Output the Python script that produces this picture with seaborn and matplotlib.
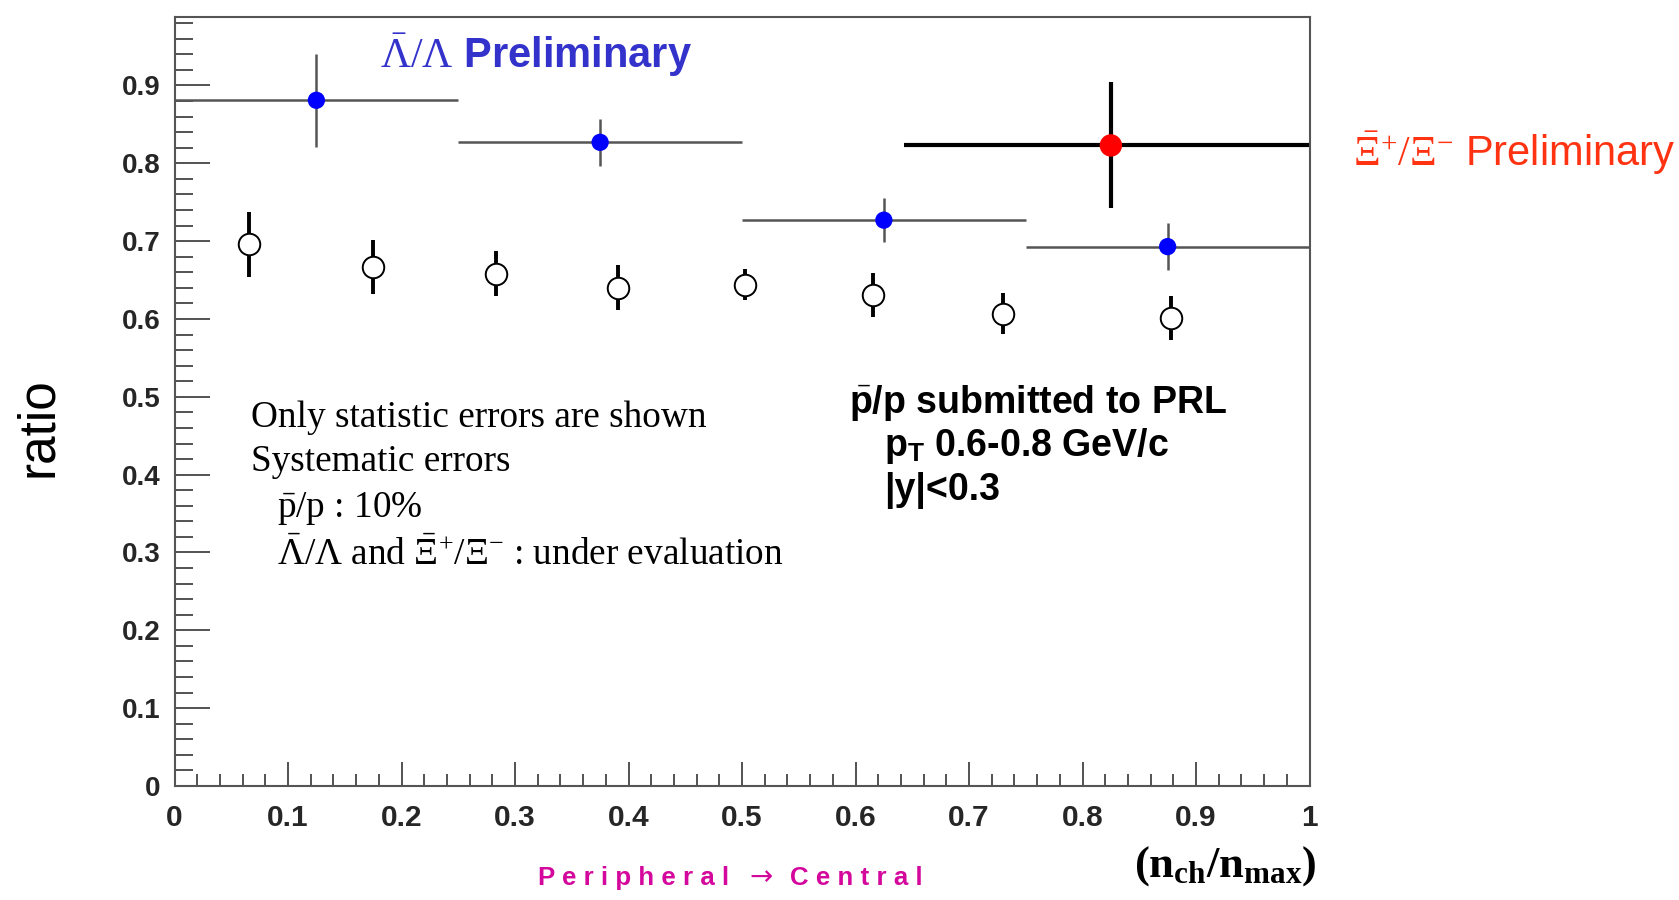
import numpy as np
import matplotlib
matplotlib.use("Agg")
import matplotlib.pyplot as plt
import seaborn as sns

# ---- data -------------------------------------------------------------
# p-bar/p ratio vs. centrality (statistical errors only)
pbar_x = [0.066, 0.175, 0.283, 0.391, 0.503, 0.615, 0.730, 0.878]
pbar_y = [0.696, 0.667, 0.658, 0.640, 0.644, 0.631, 0.607, 0.601]
pbar_err = [0.042, 0.035, 0.029, 0.029, 0.020, 0.028, 0.026, 0.028]

# Lambda-bar/Lambda ratio in four centrality bins
lam_x = [0.125, 0.375, 0.625, 0.875]
lam_xerr = [0.125, 0.125, 0.125, 0.125]
lam_y = [0.881, 0.827, 0.727, 0.693]
lam_yerr = [0.060, 0.030, 0.028, 0.030]

# Xi-bar+/Xi- ratio, one wide bin
xi_x = [0.825]
xi_xerr = [0.182]
xi_y = [0.823]
xi_yerr = [0.081]

x_ticks = [0.0, 0.1, 0.2, 0.3, 0.4, 0.5, 0.6, 0.7, 0.8, 0.9, 1.0]
x_ticklabels = ["0", "0.1", "0.2", "0.3", "0.4", "0.5", "0.6", "0.7", "0.8", "0.9", "1"]
y_ticks = [0.0, 0.1, 0.2, 0.3, 0.4, 0.5, 0.6, 0.7, 0.8, 0.9]
y_ticklabels = ["0", "0.1", "0.2", "0.3", "0.4", "0.5", "0.6", "0.7", "0.8", "0.9"]

# ---- style ------------------------------------------------------------
sns.set_theme(style="ticks")
plt.rcParams["font.family"] = ["Liberation Sans", "DejaVu Sans"]
plt.rcParams["mathtext.fontset"] = "custom"
plt.rcParams["mathtext.rm"] = "Liberation Serif"
plt.rcParams["mathtext.bf"] = "Liberation Serif:bold"
plt.rcParams["mathtext.sf"] = "Liberation Sans:bold"
plt.rcParams["mathtext.default"] = "rm"

W, H = 1679, 900
fig = plt.figure(figsize=(W / 100, H / 100), dpi=100)
fig.patch.set_facecolor("white")

x0, x1 = 174.5, 1309.5
y0, y1 = 786.0, 17.0
ax = fig.add_axes([x0 / W, 1 - y0 / H, (x1 - x0) / W, (y0 - y1) / H])
ax.set_facecolor("white")

# ---- data marks -------------------------------------------------------
ax.errorbar(pbar_x, pbar_y, yerr=pbar_err, fmt="none", ecolor="black",
            elinewidth=2.8, capsize=0, zorder=2)
sns.scatterplot(x=pbar_x, y=pbar_y, ax=ax, s=240, marker="o",
                facecolor="white", edgecolor="black", linewidth=1.4,
                zorder=3, legend=False)

ax.errorbar(lam_x, lam_y, xerr=lam_xerr, yerr=lam_yerr, fmt="none",
            ecolor="#555555", elinewidth=1.8, capsize=0, zorder=2)
sns.scatterplot(x=lam_x, y=lam_y, ax=ax, s=155, marker="o",
                color="#0000ff", edgecolor="none", zorder=4, legend=False)

ax.errorbar(xi_x, xi_y, xerr=xi_xerr, yerr=xi_yerr, fmt="none",
            ecolor="black", elinewidth=3.0, capsize=0, zorder=2)
sns.scatterplot(x=xi_x, y=xi_y, ax=ax, s=260, marker="o",
                color="#ff0000", edgecolor="none", zorder=4, legend=False)

# ---- axes -------------------------------------------------------------
ax.set_xlim(0, 1)
ax.set_ylim(0, 0.988)
ax.set_xticks(x_ticks)
ax.set_xticklabels(x_ticklabels, fontsize=21.5, fontweight="bold")
ax.set_yticks(y_ticks)
ax.set_yticklabels(y_ticklabels, fontsize=20, fontweight="bold")
ax.set_xticks(np.arange(0, 1.0001, 0.02), minor=True)
ax.set_yticks(np.arange(0, 0.981, 0.02), minor=True)

ax.tick_params(axis="y", which="major", direction="in", length=25,
               width=1.3, color="#444444", pad=10, right=False)
ax.tick_params(axis="y", which="minor", direction="in", length=13,
               width=1.3, color="#444444", right=False)
ax.tick_params(axis="x", which="major", direction="in", length=17,
               width=1.3, color="#444444", pad=13, top=False)
ax.tick_params(axis="x", which="minor", direction="in", length=9,
               width=1.3, color="#444444", top=False)
for sp in ax.spines.values():
    sp.set_visible(True)
    sp.set_color("#555555")
    sp.set_linewidth(1.5)

# ---- annotations ------------------------------------------------------
ax.text(0.181, 0.923, r"$\bar{\Lambda}/\Lambda$ Preliminary", color="#3333cc",
        fontsize=30, fontweight="bold", ha="left", va="baseline")
ax.text(1.038, 0.796, r"$\bar{\Xi}^{+}/\Xi^{-}$ Preliminary", color="#ff3311",
        fontsize=30, ha="left", va="baseline", clip_on=False)

serif = dict(family=["Liberation Serif", "DejaVu Serif"], fontsize=26.8,
             color="black", ha="left", va="baseline")
ax.text(0.067, 0.461, "Only statistic errors are shown", **serif)
ax.text(0.067, 0.405, "Systematic errors", **serif)
ax.text(0.090, 0.346, r"$\bar{\mathrm{p}}/\mathrm{p}$ : 10%", **serif)
ax.text(0.090, 0.284,
        r"$\bar{\Lambda}/\Lambda$ and $\bar{\Xi}^{+}/\Xi^{-}$ : under evaluation",
        **serif)

sans_b = dict(fontsize=27, fontweight="bold", color="black",
              ha="left", va="baseline")
ax.text(0.594, 0.479, r"$\bar{\mathsf{p}}$/p submitted to PRL", **sans_b)
ax.text(0.625, 0.424, r"p$_{\mathsf{T}}$ 0.6-0.8 GeV/c", **sans_b)
ax.text(0.625, 0.368, "|y|<0.3", **sans_b)

fig.text(39 / W, 1 - 427 / H, "ratio", rotation=90, fontsize=37,
         ha="center", va="center", color="black")
fig.text(1316 / W, 1 - 877 / H,
         r"(n$_{\mathbf{ch}}$/n$_{\mathbf{max}}$)",
         family=["Liberation Serif", "DejaVu Serif"], fontweight="bold",
         fontsize=32, ha="right", va="baseline", color="black")

magenta = "#d4089c"
fig.text(538 / W, 1 - 885 / H, "P e r i p h e r a l",
         family=["Liberation Sans", "DejaVu Sans"], fontweight="bold",
         fontsize=18.6, ha="left", va="baseline", color=magenta)
fig.text(761 / W, 1 - 885 / H, "\u2192",
         family=["DejaVu Sans"], fontsize=20,
         ha="center", va="baseline", color=magenta)
fig.text(790 / W, 1 - 885 / H, "C e n t r a l",
         family=["Liberation Sans", "DejaVu Sans"], fontweight="bold",
         fontsize=18.6, ha="left", va="baseline", color=magenta)

fig.savefig("out.png", dpi=100, facecolor="white")
